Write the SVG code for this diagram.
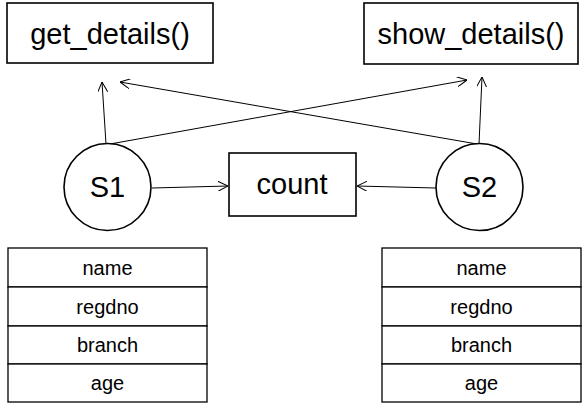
<svg xmlns="http://www.w3.org/2000/svg" width="586" height="410" viewBox="0 0 586 410">
<style>
.box{fill:#fff;stroke:#000;stroke-width:1.6}
.cell{fill:#fff;stroke:#000;stroke-width:1.3}
.big{font-family:"Liberation Sans",Arial,sans-serif;font-size:29px;text-anchor:middle;fill:#000}
.small{font-family:"Liberation Sans",Arial,sans-serif;font-size:20px;text-anchor:middle;fill:#000}
.conn{stroke:#000;stroke-width:1;fill:none;marker-end:url(#arr)}
</style>
<defs>
<marker id="arr" viewBox="0 0 10 10" refX="10" refY="5" markerWidth="10" markerHeight="10" markerUnits="userSpaceOnUse" orient="auto">
<path d="M0,0 L10,5 L0,10" fill="none" stroke="#000" stroke-width="1"/>
</marker>
</defs>
<g id="connectors">
<line class="conn" x1="106" y1="144" x2="102" y2="82"/>
<line class="conn" x1="110" y1="144" x2="467" y2="80"/>
<line class="conn" x1="477" y1="144" x2="120" y2="82"/>
<line class="conn" x1="479" y1="144" x2="482" y2="77"/>
<line class="conn" x1="152" y1="188" x2="228" y2="186"/>
<line class="conn" x1="436" y1="188" x2="357" y2="186"/>
</g>
<g id="get_details">
<rect class="box" x="7" y="3" width="206" height="60"/>
<text class="big" x="110" y="44">get_details()</text>
</g>
<g id="show_details">
<rect class="box" x="364" y="3" width="214" height="61"/>
<text class="big" x="471" y="44">show_details()</text>
</g>
<g id="count">
<rect class="box" x="229" y="153" width="127" height="63"/>
<text class="big" x="292" y="194">count</text>
</g>
<g id="S1">
<circle class="box" cx="107.5" cy="187" r="43.5"/>
<text class="big" x="107.5" y="197">S1</text>
</g>
<g id="S2">
<circle class="box" cx="479.5" cy="187" r="43.5"/>
<text class="big" x="479.5" y="197">S2</text>
</g>
<g id="table1">
<rect class="cell" x="8" y="248" width="199" height="39"/>
<rect class="cell" x="8" y="287" width="199" height="39"/>
<rect class="cell" x="8" y="326" width="199" height="38"/>
<rect class="cell" x="8" y="364" width="199" height="38"/>
<text class="small" x="107.5" y="275">name</text>
<text class="small" x="107.5" y="314">regdno</text>
<text class="small" x="107.5" y="352">branch</text>
<text class="small" x="107.5" y="390">age</text>
</g>
<g id="table2">
<rect class="cell" x="382" y="248" width="199" height="39"/>
<rect class="cell" x="382" y="287" width="199" height="39"/>
<rect class="cell" x="382" y="326" width="199" height="38"/>
<rect class="cell" x="382" y="364" width="199" height="38"/>
<text class="small" x="481.5" y="275">name</text>
<text class="small" x="481.5" y="314">regdno</text>
<text class="small" x="481.5" y="352">branch</text>
<text class="small" x="481.5" y="390">age</text>
</g>
</svg>
